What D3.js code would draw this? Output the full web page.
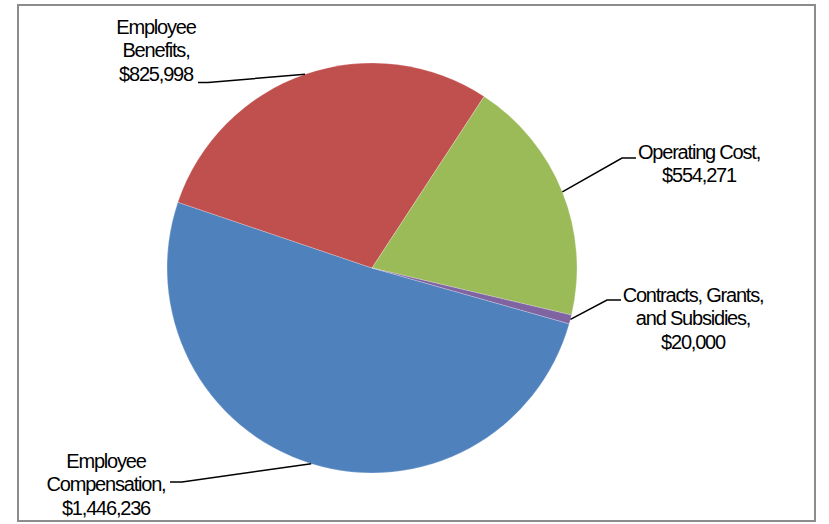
<!DOCTYPE html>
<html>
<head>
<meta charset="utf-8">
<script src="https://cdn.jsdelivr.net/npm/d3@7"></script>
<style>
  html, body { margin: 0; padding: 0; background: #fff; }
  svg { display: block; }
  text { font-family: "Liberation Sans", Arial, sans-serif; fill: #000; }
</style>
</head>
<body>
<svg id="chart" width="829" height="524"></svg>
<script>
// Budget categories, amounts and slice colours
const categories = ["Employee Compensation", "Employee Benefits", "Operating Cost", "Contracts, Grants, and Subsidies"];
const amounts = [1446236, 825998, 554271, 20000];
const colors = ["#4F81BD", "#C0504D", "#9BBB59", "#8064A2"];
// Label text lines (name parts; the amount is appended as the last line)
const labelLines = [
  ["Employee", "Compensation,"],
  ["Employee", "Benefits,"],
  ["Operating Cost,"],
  ["Contracts, Grants,", "and Subsidies,"]
];

const W = 829, H = 524;
const cx = 372, cy = 268, R = 205;
const firstAngle = 105.8 * Math.PI / 180;

// Label placement: text centre x, first baseline y, leader start point
const labelLayout = [
  { x: 106, y: 468, lx: 170, ly: 482, hx: 182 },
  { x: 156, y: 34, lx: 198, ly: 82.5, hx: 208 },
  { x: 699, y: 159, lx: 636, ly: 158, hx: 622 },
  { x: 693, y: 302, lx: 621, ly: 300, hx: 607 }
];
const lineHeight = 23.3;

const svg = d3.select("#chart");

// chart area frame
svg.append("rect")
  .attr("x", 18).attr("y", 5)
  .attr("width", 797).attr("height", 516)
  .attr("fill", "#fff")
  .attr("stroke", "#8c8c8c")
  .attr("stroke-width", 2);

const data = categories.map((c, i) => ({ name: c, value: amounts[i], color: colors[i], lines: labelLines[i], layout: labelLayout[i] }));

const pie = d3.pie()
  .value(d => d.value)
  .sort(null)
  .startAngle(firstAngle)
  .endAngle(firstAngle + 2 * Math.PI);

const arcs = pie(data);
const arc = d3.arc().innerRadius(0).outerRadius(R);
const edgeArc = d3.arc().innerRadius(R).outerRadius(R);

const g = svg.append("g").attr("transform", `translate(${cx},${cy})`);

g.selectAll("path.slice")
  .data(arcs)
  .join("path")
  .attr("class", "slice")
  .attr("d", arc)
  .attr("fill", d => d.data.color)
  .attr("stroke", "#fff")
  .attr("stroke-width", 0.4)
  .attr("stroke-opacity", 0.6);

const fmt = d3.format("$,");

// leader lines from label to the slice's outer mid-point
arcs.forEach(a => {
  const L = a.data.layout;
  const [ex, ey] = edgeArc.centroid(a);
  svg.append("polyline")
    .attr("points", `${L.lx},${L.ly} ${L.hx},${L.ly} ${cx + ex},${cy + ey}`)
    .attr("fill", "none")
    .attr("stroke", "#000")
    .attr("stroke-width", 1.5);
});

// labels
arcs.forEach(a => {
  const L = a.data.layout;
  const lines = a.data.lines.concat([fmt(a.data.value)]);
  const t = svg.append("text")
    .attr("text-anchor", "middle")
    .attr("font-size", 20)
    .attr("letter-spacing", "-1.2");
  lines.forEach((s, k) => {
    t.append("tspan")
      .attr("x", L.x)
      .attr("y", L.y + k * lineHeight)
      .text(s);
  });
});
</script>
</body>
</html>
